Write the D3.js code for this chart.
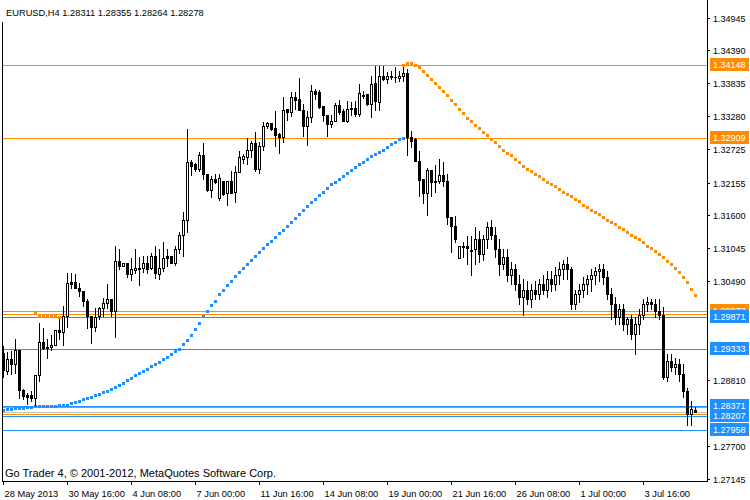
<!DOCTYPE html>
<html><head><meta charset="utf-8">
<script src="https://cdn.jsdelivr.net/npm/d3@7"></script>
<style>
body{margin:0;background:#fff}
svg{display:block}
text{font-family:"Liberation Sans",Arial,sans-serif;font-size:9.3px}
</style>
</head><body>
<svg id="c" width="750" height="500"></svg>
<script>
// ---- data ----
const opens=[1.29274,1.28964,1.29161,1.29088,1.29319,1.28642,1.28552,1.28552,1.28513,1.28896,
1.29460,1.29376,1.29364,1.29404,1.29652,1.29629,1.29894,1.30475,1.30475,1.30374,
1.30317,1.30154,1.29894,1.29714,1.29894,1.30035,1.30120,1.30188,1.29979,1.30831,
1.30740,1.30797,1.30611,1.30673,1.30712,1.30701,1.30797,1.30701,1.30910,1.30599,
1.30701,1.30910,1.30910,1.30797,1.31034,1.31259,1.31513,1.32506,1.32461,1.32376,
1.32613,1.32303,1.32026,1.32218,1.31897,1.32179,1.31970,1.32173,1.31993,1.32337,
1.32552,1.32580,1.32704,1.32816,1.32383,1.32777,1.33110,1.33167,1.33071,1.32975,
1.32918,1.33398,1.33353,1.33595,1.33561,1.33387,1.33116,1.33268,1.33708,1.33680,
1.33443,1.33302,1.33144,1.33200,1.33471,1.33358,1.33189,1.33409,1.33409,1.33313,
1.33640,1.33652,1.33482,1.33832,1.33516,1.33951,1.33905,1.33951,1.33945,1.33922,
1.33951,1.34013,1.32930,1.32885,1.32524,1.32213,1.31976,1.32371,1.32185,1.32185,
1.32287,1.32185,1.31576,1.31424,1.30882,1.31085,1.31074,1.31018,
1.31022,1.31191,1.30937,1.31191,1.31394,1.31275,1.31022,1.30768,1.30886,1.30598,
1.30683,1.30429,1.30209,1.30344,1.30175,1.30344,1.30260,1.30429,1.30344,1.30514,
1.30429,1.30598,1.30683,1.30768,1.30683,1.30091,1.30260,1.30344,1.30429,1.30514,
1.30598,1.30649,1.30683,1.30548,1.30260,1.30091,1.29871,1.30006,1.29752,1.29837,
1.29583,1.29752,1.29921,1.30091,1.30141,1.30091,1.29972,1.29921,1.28855,1.29126,
1.29024,1.29075,1.28906,1.28618,1.28229,1.28311];
const highs=[1.29387,1.29291,1.29302,1.29500,1.29319,1.28654,1.28597,1.28625,1.28902,1.29770,
1.29697,1.29500,1.29567,1.29652,1.29838,1.30064,1.30616,1.30616,1.30599,1.30458,
1.30317,1.30176,1.29894,1.30035,1.30052,1.30205,1.30430,1.30188,1.31079,1.31022,
1.30797,1.30797,1.30881,1.31022,1.30898,1.30910,1.30910,1.30966,1.31079,1.31022,
1.31146,1.31022,1.30910,1.31079,1.31316,1.31654,1.33053,1.32528,1.32489,1.32675,
1.32827,1.32303,1.32263,1.32291,1.32291,1.32179,1.32173,1.32342,1.32428,1.32681,
1.32636,1.32901,1.32850,1.33003,1.32834,1.33172,1.33172,1.33167,1.33358,1.32986,
1.33595,1.33398,1.33691,1.33680,1.33917,1.33482,1.33370,1.33798,1.33731,1.33714,
1.33443,1.33302,1.33302,1.33494,1.33550,1.33398,1.33539,1.33522,1.33539,1.33821,
1.33708,1.33652,1.33962,1.34131,1.34131,1.34131,1.34018,1.34046,1.34103,1.34046,
1.34103,1.34069,1.33020,1.32901,1.32681,1.32213,1.32394,1.32371,1.32456,1.32546,
1.32507,1.32298,1.31576,1.31593,1.31085,1.31142,1.31243,1.31243,
1.31394,1.31326,1.31275,1.31495,1.31529,1.31394,1.31191,1.31022,1.31022,1.30818,
1.30768,1.30598,1.30514,1.30480,1.30429,1.30480,1.30514,1.30598,1.30649,1.30649,
1.30717,1.30818,1.30852,1.30886,1.30717,1.30344,1.30429,1.30548,1.30598,1.30683,
1.30717,1.30768,1.30768,1.30649,1.30378,1.30209,1.30091,1.30091,1.29871,1.29921,
1.29871,1.30006,1.30175,1.30209,1.30175,1.30175,1.30175,1.30040,1.29244,1.29244,
1.29193,1.29160,1.29075,1.28685,1.28449,1.28355];
const lows=[1.28868,1.28907,1.28919,1.28936,1.28513,1.28496,1.28400,1.28456,1.28383,1.28795,
1.29330,1.29178,1.29319,1.29404,1.29500,1.29409,1.29714,1.30374,1.30363,1.30233,
1.30064,1.29697,1.29443,1.29641,1.29849,1.29894,1.30035,1.29894,1.29545,1.30684,
1.30740,1.30560,1.30504,1.30628,1.30419,1.30639,1.30628,1.30684,1.30543,1.30526,
1.30656,1.30740,1.30786,1.30752,1.30966,1.30910,1.31316,1.32274,1.32348,1.32348,
1.32218,1.32004,1.31914,1.32139,1.31857,1.31936,1.31773,1.31970,1.31819,1.32326,
1.32490,1.32467,1.32580,1.32354,1.32315,1.32704,1.33076,1.33042,1.32766,1.32653,
1.32834,1.33212,1.33279,1.33398,1.33387,1.32935,1.32794,1.33172,1.33561,1.33415,
1.33200,1.32935,1.33088,1.33189,1.33313,1.33189,1.33172,1.33302,1.33285,1.33285,
1.33584,1.33471,1.33257,1.33387,1.33381,1.33888,1.33838,1.33905,1.33849,1.33866,
1.33877,1.32619,1.32760,1.32524,1.31931,1.31806,1.31604,1.31931,1.31993,1.32140,
1.32101,1.31452,1.30984,1.31153,1.30882,1.30888,1.30775,1.30595,
1.30768,1.30818,1.30852,1.31055,1.31191,1.30886,1.30598,1.30683,1.30480,1.30429,
1.30344,1.30091,1.29921,1.30091,1.30040,1.30175,1.30175,1.30260,1.30209,1.30311,
1.30344,1.30429,1.30514,1.30514,1.30006,1.30006,1.30141,1.30209,1.30260,1.30311,
1.30429,1.30480,1.30429,1.30175,1.29837,1.29752,1.29752,1.29667,1.29583,1.29498,
1.29244,1.29583,1.29837,1.29972,1.30006,1.29871,1.29837,1.28821,1.28787,1.28957,
1.28906,1.28787,1.28517,1.28059,1.28059,1.28264];
const closes=[1.28981,1.29161,1.29077,1.29319,1.28642,1.28541,1.28530,1.28507,1.28902,1.29460,
1.29347,1.29347,1.29409,1.29652,1.29624,1.29894,1.30458,1.30441,1.30374,1.30317,
1.30148,1.29894,1.29714,1.29883,1.30035,1.30120,1.30188,1.29979,1.30825,1.30740,
1.30797,1.30611,1.30684,1.30701,1.30695,1.30797,1.30684,1.30910,1.30616,1.30701,
1.30881,1.30881,1.30797,1.31034,1.31259,1.31513,1.32506,1.32432,1.32376,1.32613,
1.32303,1.32026,1.32218,1.32162,1.32235,1.31953,1.32173,1.31981,1.32337,1.32580,
1.32597,1.32709,1.32816,1.32383,1.32777,1.33116,1.33155,1.33059,1.32957,1.32918,
1.33387,1.33353,1.33595,1.33550,1.33387,1.33116,1.33268,1.33708,1.33652,1.33426,
1.33302,1.33144,1.33200,1.33460,1.33353,1.33189,1.33398,1.33398,1.33313,1.33663,
1.33623,1.33482,1.33815,1.33533,1.33962,1.33905,1.33951,1.33934,1.33934,1.33962,
1.34013,1.32918,1.32862,1.32524,1.32196,1.31976,1.32371,1.32168,1.32168,1.32287,
1.32185,1.31576,1.31424,1.31198,1.31080,1.31068,1.31051,1.31001,
1.31191,1.30937,1.31191,1.31394,1.31275,1.31022,1.30768,1.30886,1.30598,1.30683,
1.30429,1.30209,1.30344,1.30175,1.30344,1.30260,1.30429,1.30344,1.30514,1.30429,
1.30598,1.30683,1.30768,1.30683,1.30091,1.30260,1.30344,1.30429,1.30514,1.30598,
1.30649,1.30683,1.30548,1.30260,1.30091,1.29871,1.30006,1.29752,1.29837,1.29583,
1.29752,1.29921,1.30091,1.30141,1.30091,1.29972,1.29921,1.28855,1.29126,1.29024,
1.29075,1.28906,1.28618,1.28229,1.28313,1.28278];

// rising indicator (blue dots), bars 0..100
const blueDots=[1.28302,1.28313,1.28325,1.28330,1.28335,1.28342,1.28347,1.28359,1.28364,1.28368,
1.28371,1.28373,1.28376,1.28379,1.28383,1.28386,1.28391,1.28415,1.28437,1.28461,
1.28483,1.28511,1.28528,1.28550,1.28579,1.28606,1.28630,1.28664,1.28686,1.28725,
1.28765,1.28809,1.28850,1.28889,1.28935,1.28969,1.29002,1.29041,1.29080,1.29121,
1.29160,1.29205,1.29256,1.29307,1.29341,1.29414,1.29481,1.29566,1.29684,1.29781,
1.29893,1.29977,1.30074,1.30153,1.30260,1.30339,1.30417,1.30492,1.30581,1.30644,
1.30712,1.30779,1.30847,1.30915,1.30983,1.31050,1.31118,1.31169,1.31237,1.31297,
1.31355,1.31423,1.31490,1.31558,1.31626,1.31693,1.31761,1.31829,1.31880,1.31947,
1.31998,1.32066,1.32122,1.32167,1.32218,1.32269,1.32320,1.32370,1.32421,1.32465,
1.32506,1.32550,1.32596,1.32634,1.32668,1.32714,1.32760,1.32799,1.32844,1.32884,
1.32917];
const blueStart=0;
// falling indicator (orange dots), bars 100..173
const orangeDots=[1.34148,1.34170,1.34170,1.34148,1.34114,1.34046,1.33978,1.33911,1.33843,1.33775,
1.33708,1.33640,1.33555,1.33481,1.33403,1.33335,1.33251,1.33188,1.33129,1.33070,
1.33010,1.32951,1.32892,1.32833,1.32773,1.32714,1.32663,1.32613,1.32553,1.32494,
1.32443,1.32392,1.32342,1.32299,1.32257,1.32215,1.32172,1.32130,1.32088,1.32045,
1.32003,1.31961,1.31919,1.31876,1.31834,1.31783,1.31741,1.31698,1.31656,1.31614,
1.31571,1.31529,1.31487,1.31445,1.31402,1.31360,1.31318,1.31275,1.31233,1.31191,
1.31140,1.31089,1.31039,1.30988,1.30937,1.30886,1.30835,1.30768,1.30700,1.30632,
1.30548,1.30463,1.30361,1.30243];
const orangeStart=100;
const orangeOld=[1.29947,1.29904,1.29904,1.29893,1.29893,1.29893,1.29871];
const orangeOldStart=8;

const orangeLevels=[1.34148,1.32909,1.29977,1.29933,1.28356,1.28237];
const orangeLabels=[1.34148,1.32909,1.29977];
const blueLevels=[1.29871,1.29333,1.28371,1.28207,1.27958];
const bidPrice=1.28278;

const yTicks=[1.34945,1.34390,1.33835,1.33280,1.32725,1.32155,1.31600,1.31045,1.30490,1.28810,1.27700,1.27145];
const xTickIdx=[0,16,32,48,64,80,96,112,128,144,160];
const xTickLabels=["28 May 2013","30 May 16:00","4 Jun 08:00","7 Jun 00:00","11 Jun 16:00","14 Jun 08:00","19 Jun 00:00","21 Jun 16:00","26 Jun 08:00","1 Jul 00:00","3 Jul 16:00"];
const title="EURUSD,H4  1.28311 1.28355 1.28264 1.28278";
const footer="Go Trader 4, \u00A9 2001-2012, MetaQuotes Software Corp.";

// ---- drawing ----
const ORANGE="#FF8C00", BLUE="#1E90FF";
const svg=d3.select("#c");
const n=opens.length;
const x=d3.scaleLinear().domain([0,n-1]).range([3,3+4*(n-1)]);
const y=d3.scaleLinear().domain([1.27145,1.34945]).range([479,18.2]);
const px=i=>Math.round(x(i));
const py=v=>Math.floor(y(v));

// horizontal levels
const g=svg.append("g");
g.selectAll("line.o").data(orangeLevels).join("line")
 .attr("x1",2).attr("x2",707).attr("y1",d=>py(d)+0.5).attr("y2",d=>py(d)+0.5)
 .attr("stroke",ORANGE).attr("stroke-width",1);
g.selectAll("line.b").data(blueLevels).join("line")
 .attr("x1",2).attr("x2",707).attr("y1",d=>py(d)+0.5).attr("y2",d=>py(d)+0.5)
 .attr("stroke",BLUE).attr("stroke-width",1);
g.append("line").attr("x1",2).attr("x2",707).attr("y1",py(bidPrice)+0.5).attr("y2",py(bidPrice)+0.5)
 .attr("stroke","#C0C0C0");

// indicator dots
function dots(arr,start,color){
  svg.append("g").selectAll("rect").data(arr).join("rect")
   .attr("x",(d,i)=>px(start+i)-1).attr("y",d=>py(d)-1)
   .attr("width",3).attr("height",3).attr("fill",color);
}
dots(blueDots,blueStart,BLUE);
dots(orangeDots,orangeStart,ORANGE);
dots(orangeOld,orangeOldStart,ORANGE);

// candles
const bars=d3.range(n).map(i=>({i,o:opens[i],h:highs[i],l:lows[i],c:closes[i]}));
const cg=svg.append("g");
cg.selectAll("line").data(bars).join("line")
 .attr("x1",d=>px(d.i)+0.5).attr("x2",d=>px(d.i)+0.5)
 .attr("y1",d=>py(d.h)).attr("y2",d=>py(d.l)+1)
 .attr("stroke","#000");
cg.selectAll("rect").data(bars).join("rect")
 .each(function(d){
   const top=py(Math.max(d.o,d.c)), bot=py(Math.min(d.o,d.c));
   const s=d3.select(this);
   if(d.c>=d.o && bot-top>=1){
     s.attr("x",px(d.i)-0.5).attr("y",top+0.5).attr("width",2).attr("height",bot-top)
      .attr("fill","#fff").attr("stroke","#000");
   } else {
     s.attr("x",px(d.i)-1).attr("y",top).attr("width",3).attr("height",Math.max(1,bot-top+1))
      .attr("fill","#000");
   }
 });

// axes frame
svg.append("line").attr("x1",2.5).attr("x2",2.5).attr("y1",22).attr("y2",482).attr("stroke","#000");
svg.append("line").attr("x1",2).attr("x2",708).attr("y1",481.5).attr("y2",481.5).attr("stroke","#000");
svg.append("line").attr("x1",707.5).attr("x2",707.5).attr("y1",0).attr("y2",482).attr("stroke","#000");

// bottom axis
const xa=svg.append("g").attr("transform","translate(0.5,481)")
 .call(d3.axisBottom(x).tickValues(xTickIdx).tickFormat((d,i)=>xTickLabels[i]).tickSize(4).tickSizeOuter(0).tickPadding(6));
xa.select(".domain").remove();
xa.selectAll(".tick").attr("transform",d=>`translate(${px(d)},0)`);
xa.selectAll(".tick line").attr("stroke","#000");
xa.selectAll(".tick text").attr("text-anchor","start").attr("x",1).attr("dy",0).attr("y",16)
 .attr("fill","#000").style("font-size","9.3px").style("font-family",null);

// right axis
const ya=svg.append("g").attr("transform","translate(707,0)")
 .call(d3.axisRight(y).tickValues(yTicks).tickFormat(d3.format(".5f")).tickSize(3).tickPadding(3));
ya.select(".domain").remove();
ya.selectAll(".tick").attr("transform",d=>`translate(0,${py(d)+0.5})`);
ya.selectAll(".tick line").attr("stroke","#000");
ya.selectAll(".tick text").attr("x",6).attr("dy","0.35em").attr("fill","#000")
 .style("font-size","9px").style("font-family",null);

// price labels
function priceLabels(arr,color){
  const lg=svg.append("g").selectAll("g").data(arr).join("g")
   .attr("transform",d=>`translate(710,${py(d)-7})`);
  lg.append("rect").attr("width",39).attr("height",13).attr("fill",color);
  lg.append("text").attr("x",3).attr("y",10).attr("fill","#fff").style("font-size","9px")
   .text(d=>d3.format(".5f")(d));
}
priceLabels(orangeLabels,ORANGE);
priceLabels(blueLevels,BLUE);

// title & footer
svg.append("text").attr("x",6).attr("y",16).attr("fill","#000").text(title);
svg.append("text").attr("x",5).attr("y",477).attr("fill","#000").style("font-size","11px").text(footer);
</script>
</body></html>
